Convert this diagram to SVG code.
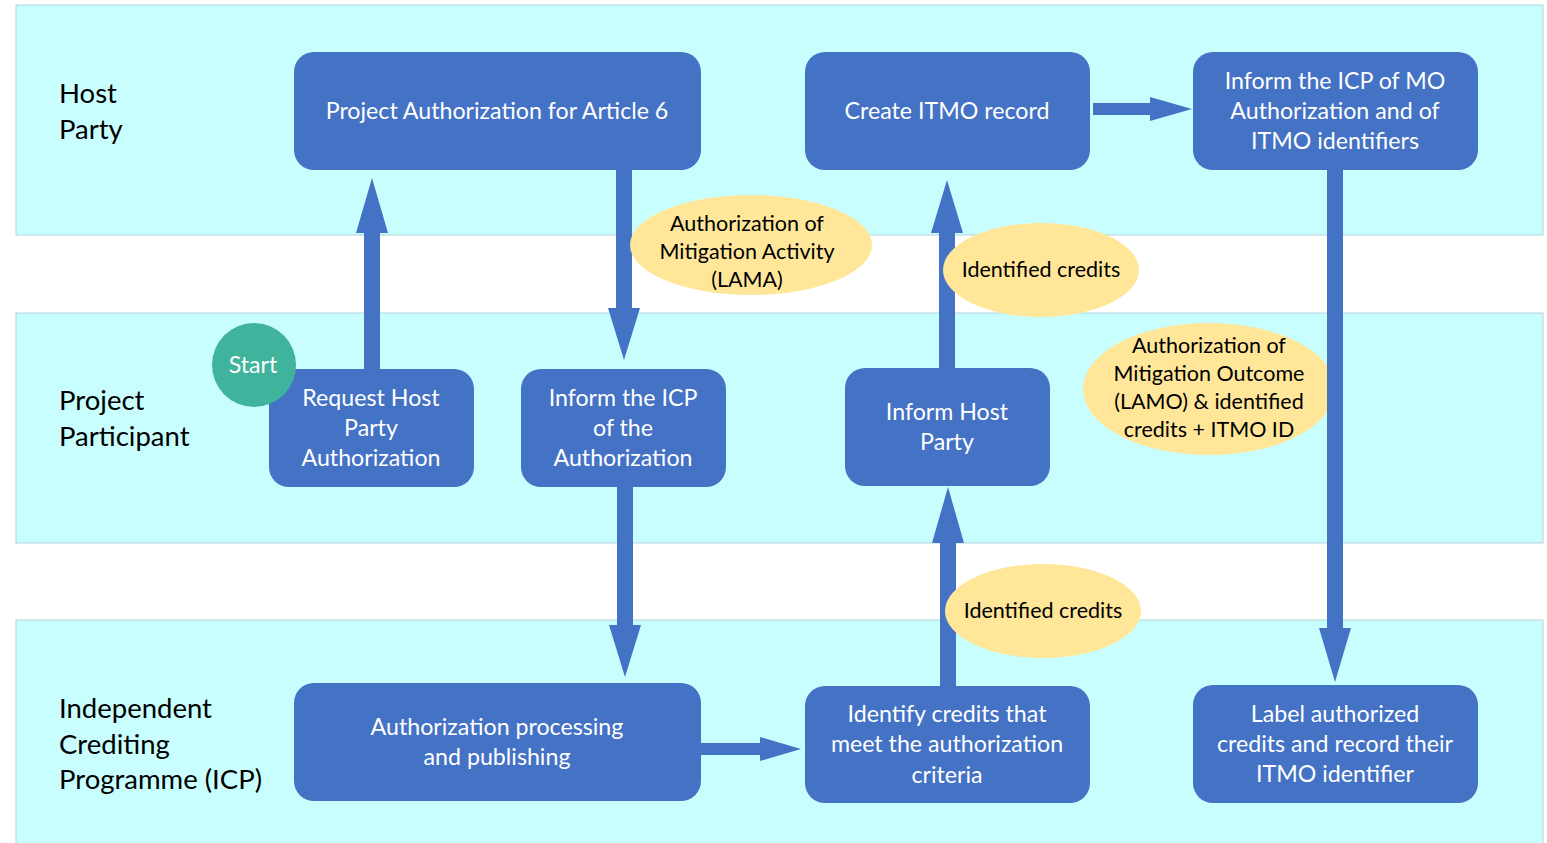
<svg xmlns="http://www.w3.org/2000/svg" width="1547" height="843" viewBox="0 0 1547 843">
<defs>
<style>
.lane{fill:#C9FEFE;stroke:#B4D4DA;stroke-width:1}
.lbl{font-family:Lato,"Liberation Sans",sans-serif;font-size:27.5px;fill:#000}
.box{fill:#4472C4}
.bt{font-family:Lato,"Liberation Sans",sans-serif;font-size:23.2px;fill:#fff;text-anchor:middle}
.ell{fill:#FFE699}
.et{font-family:Lato,"Liberation Sans",sans-serif;font-size:21.5px;fill:#000;text-anchor:middle}
.arr{fill:#4472C4}
</style>
</defs>
<rect width="1547" height="843" fill="#fff"/>
<g id="lanes">
<rect class="lane" x="16" y="5" width="1527" height="230"/>
<rect class="lane" x="16" y="313" width="1527" height="230"/>
<rect class="lane" x="16" y="620" width="1527" height="230"/>
<text class="lbl" x="59" y="103">Host</text>
<text class="lbl" x="59" y="139">Party</text>
<text class="lbl" x="59" y="410">Project</text>
<text class="lbl" x="59" y="446">Participant</text>
<text class="lbl" x="59" y="718">Independent</text>
<text class="lbl" x="59" y="754">Crediting</text>
<text class="lbl" x="59" y="789">Programme (ICP)</text>
</g>
<g id="connectors">
<polygon class="arr" points="364,369 380,369 380,233 388,233 372,178 356,233 364,233"/>
<polygon class="arr" points="616,170 632,170 632,308 640,308 624,360 608,308 616,308"/>
<polygon class="arr" points="939,368 955,368 955,233 963,233 947,180 931,233 939,233"/>
<polygon class="arr" points="1093,103 1150,103 1150,97 1192,109 1150,121 1150,115 1093,115"/>
<polygon class="arr" points="1327,170 1343,170 1343,628 1351,628 1335,682 1319,628 1327,628"/>
<polygon class="arr" points="617,487 633,487 633,625 641,625 625,677 609,625 617,625"/>
<polygon class="arr" points="940,686 956,686 956,543 964,543 948,487 932,543 940,543"/>
<polygon class="arr" points="701,743 760,743 760,737 801,749 760,761 760,755 701,755"/>
</g>
<g id="n-proj-auth"><rect class="box" x="294" y="52" width="407" height="118" rx="20"/><text class="bt" x="497" y="119">Project Authorization for Article 6</text></g>
<g id="n-create-itmo"><rect class="box" x="805" y="52" width="285" height="118" rx="20"/><text class="bt" x="947" y="119">Create ITMO record</text></g>
<g id="n-inform-icp-mo"><rect class="box" x="1193" y="52" width="285" height="118" rx="20"/><text class="bt" x="1335" y="89">Inform the ICP of MO</text><text class="bt" x="1335" y="119">Authorization and of</text><text class="bt" x="1335" y="149">ITMO identifiers</text></g>
<g id="n-request"><rect class="box" x="269" y="369" width="205" height="118" rx="20"/><text class="bt" x="371" y="406">Request Host</text><text class="bt" x="371" y="436">Party</text><text class="bt" x="371" y="466">Authorization</text></g>
<g id="n-start"><circle cx="254" cy="365" r="42" fill="#40B39C"/><text class="bt" x="253" y="373">Start</text></g>
<g id="n-inform-icp"><rect class="box" x="521" y="369" width="205" height="118" rx="20"/><text class="bt" x="623" y="406">Inform the ICP</text><text class="bt" x="623" y="436">of the</text><text class="bt" x="623" y="466">Authorization</text></g>
<g id="n-inform-host"><rect class="box" x="845" y="368" width="205" height="118" rx="20"/><text class="bt" x="947" y="420">Inform Host</text><text class="bt" x="947" y="450">Party</text></g>
<g id="n-auth-proc"><rect class="box" x="294" y="683" width="407" height="118" rx="20"/><text class="bt" x="497" y="735">Authorization processing</text><text class="bt" x="497" y="765">and publishing</text></g>
<g id="n-identify"><rect class="box" x="805" y="686" width="285" height="117" rx="20"/><text class="bt" x="947" y="722">Identify credits that</text><text class="bt" x="947" y="752">meet the authorization</text><text class="bt" x="947" y="783">criteria</text></g>
<g id="n-label"><rect class="box" x="1193" y="685" width="285" height="118" rx="20"/><text class="bt" x="1335" y="722">Label authorized</text><text class="bt" x="1335" y="752">credits and record their</text><text class="bt" x="1335" y="782">ITMO identifier</text></g>
<g id="e-lama"><ellipse class="ell" cx="751" cy="245" rx="121" ry="50"/><text class="et" x="747" y="231">Authorization of</text><text class="et" x="747" y="259">Mitigation Activity</text><text class="et" x="747" y="287">(LAMA)</text></g>
<g id="e-id1"><ellipse class="ell" cx="1041" cy="270" rx="98" ry="47"/><text class="et" x="1041" y="277">Identified credits</text></g>
<g id="e-lamo"><ellipse class="ell" cx="1209" cy="389" rx="126" ry="66"/><text class="et" x="1209" y="353">Authorization of</text><text class="et" x="1209" y="381">Mitigation Outcome</text><text class="et" x="1209" y="409">(LAMO) &amp; identified</text><text class="et" x="1209" y="437">credits + ITMO ID</text></g>
<g id="e-id2"><ellipse class="ell" cx="1043" cy="611" rx="98" ry="47"/><text class="et" x="1043" y="618">Identified credits</text></g>
<polygon class="arr" points="1327,320 1343,320 1343,460 1327,460"/>
</svg>
